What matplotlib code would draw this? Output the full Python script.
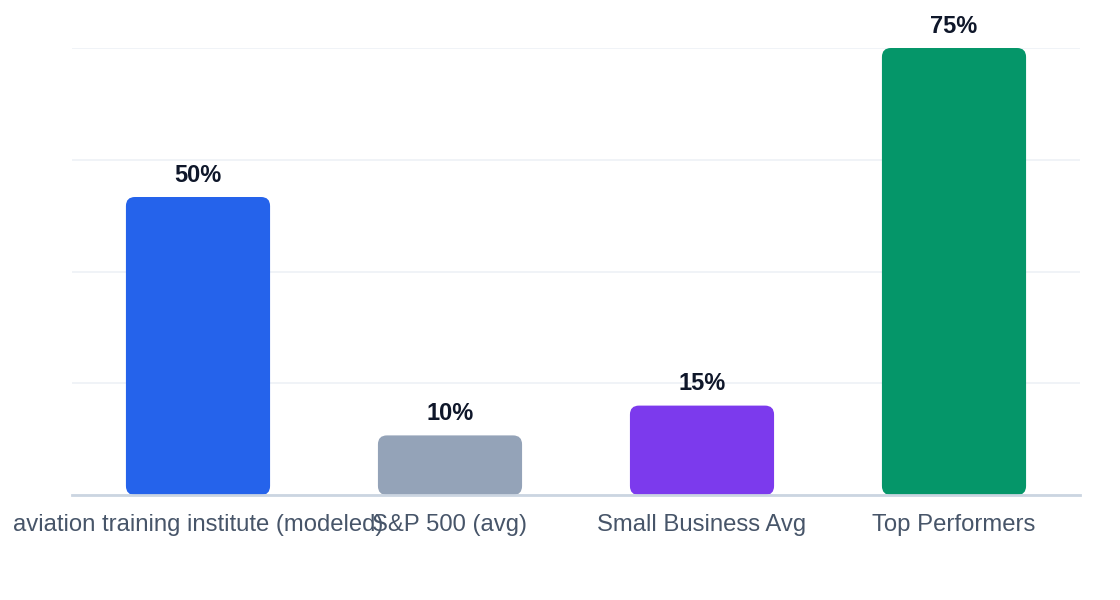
import matplotlib
matplotlib.use("Agg")
import matplotlib.pyplot as plt
from matplotlib.patches import FancyBboxPatch

categories = ["aviation training institute (modeled)", "S&P 500 (avg)",
              "Small Business Avg", "Top Performers"]
values = [50, 10, 15, 75]
colors = ["#2563eb", "#94a3b8", "#7c3aed", "#059669"]

plt.rcParams['font.family'] = ['Liberation Sans', 'DejaVu Sans']

fig = plt.figure(figsize=(11.2, 6), dpi=100)
ax = fig.add_axes([72 / 1120, 105 / 600, 1008 / 1120, 447 / 600])

x = list(range(len(categories)))
width = 0.572
bars = ax.bar(x, values, width=width, color=colors)

ax.set_xlim(-0.5, len(categories) - 0.5)
ax.set_ylim(0, 75)
ax.set_yticks([0, 18.75, 37.5, 56.25, 75])
ax.set_yticklabels([])
ax.tick_params(axis='y', length=0)
ax.grid(axis='y', color='#edf1f6', linewidth=1.2)
ax.set_axisbelow(True)

for side in ['top', 'right', 'left']:
    ax.spines[side].set_visible(False)
ax.spines['bottom'].set_color('#cbd5e1')
ax.spines['bottom'].set_linewidth(2)
ax.spines['bottom'].set_zorder(5)

ax.set_xticks(x)
ax.set_xticklabels(categories, fontsize=17.2, color='#475569')
ax.tick_params(axis='x', length=0, pad=14)

# swap plain bars for rounded ones
fig.canvas.draw()
px_x = ax.transData.transform((1, 0))[0] - ax.transData.transform((0, 0))[0]
px_y = ax.transData.transform((0, 1))[1] - ax.transData.transform((0, 0))[1]
radius_px = 9
for bar in bars:
    bx, by = bar.get_x(), bar.get_y()
    bw, bh = bar.get_width(), bar.get_height()
    bar.set_visible(False)
    rounded = FancyBboxPatch((bx, by), bw, bh,
                             boxstyle="round,pad=0,rounding_size=%f" % (radius_px / px_x),
                             mutation_aspect=px_x / px_y,
                             facecolor=bar.get_facecolor(), edgecolor='none', zorder=3)
    ax.add_patch(rounded)

for xi, v in zip(x, values):
    ax.annotate(f"{v}%", (xi, v), xytext=(0, 11), textcoords='offset points',
                ha='center', va='baseline', fontsize=17, fontweight='bold',
                color='#0f172a', annotation_clip=False)

fig.savefig("out.png", dpi=100, facecolor='white')
